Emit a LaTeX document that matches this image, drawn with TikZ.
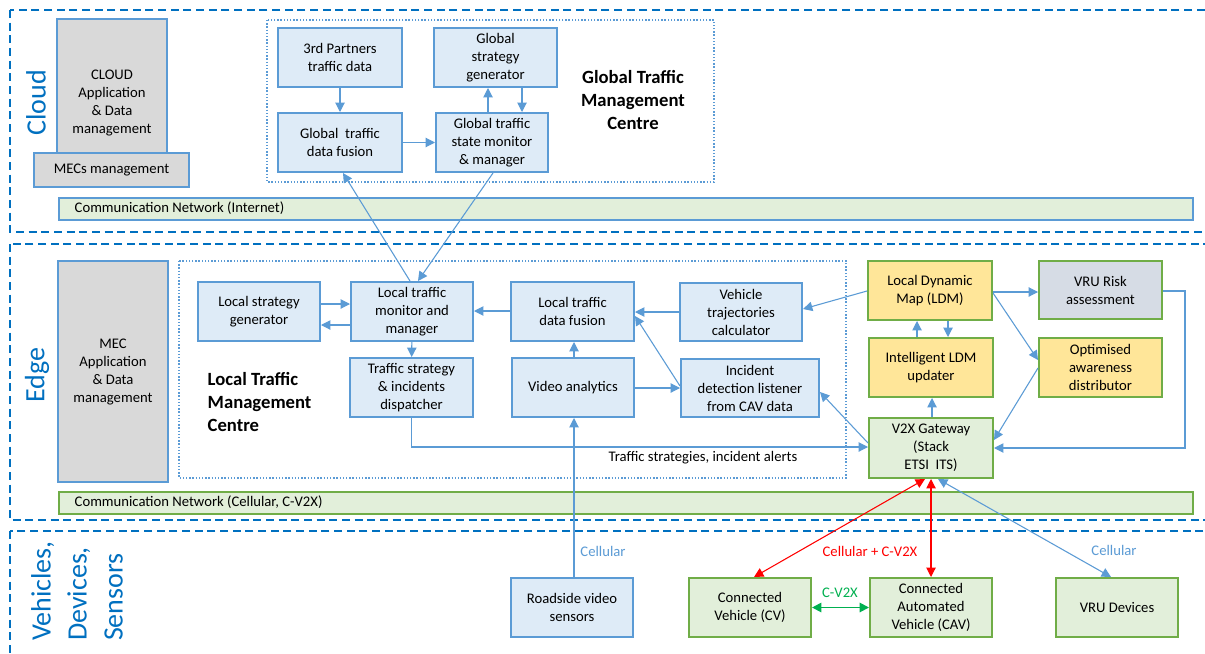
\documentclass[tikz,border=0pt]{standalone}
\usepackage{fontspec}
\setmainfont{Carlito}
\usetikzlibrary{arrows.meta, positioning, calc}
\definecolor{boxblue}{HTML}{5B9BD5}
\definecolor{fillblue}{HTML}{DEEBF7}
\definecolor{fillgray}{HTML}{D9D9D9}
\definecolor{fillgreen}{HTML}{E2EFDA}
\definecolor{boxgreen}{HTML}{70AD47}
\definecolor{fillyellow}{HTML}{FFE699}
\definecolor{fillslate}{HTML}{D6DCE5}
\definecolor{layerblue}{HTML}{0070C0}
\definecolor{linkred}{HTML}{FF0000}
\definecolor{linkgreen}{HTML}{00B050}
\tikzset{
  % Functional blocks
  block/.style={
    draw=boxblue, fill=fillblue, line width=1.5pt,
    minimum width=91.5pt, minimum height=44.25pt, inner sep=1pt,
    font=\fontsize{11}{13.5}\selectfont, align=center,
  },
  wh/.style 2 args={minimum width=#1*0.75pt, minimum height=#2*0.75pt},
  mgmt/.style={block, fill=fillgray},
  its/.style={block, draw=boxgreen, fill=#1},
  its/.default=fillgreen,
  % Communication network bars
  net/.style={draw=#1, fill=fillgreen, line width=1.5pt, anchor=west,
    minimum width=850.5pt, minimum height=16.5pt},
  nettext/.style={font=\fontsize{11}{13.5}\selectfont, anchor=west},
  % Layers and centres
  layer/.style={draw=layerblue, line width=1.4pt, dash pattern=on 6pt off 3.5pt},
  centre/.style={draw=boxblue, line width=1pt, dash pattern=on 1pt off 1.4pt},
  layertitle/.style={rotate=90, text=layerblue, align=left,
    font=\fontsize{21}{27}\selectfont},
  centretitle/.style={font=\fontsize{14}{17}\selectfont\bfseries},
  % Arrows
  flow/.style={-{Triangle[length=7pt,width=7pt]}, boxblue, line width=0.8pt},
  radio/.style={{Triangle[length=7pt,width=7pt]}-{Triangle[length=7pt,width=7pt]},
    line width=0.8pt},
  linklabel/.style={font=\fontsize{11}{13.5}\selectfont, inner sep=1pt},
}
\begin{document}
\begin{tikzpicture}[x=0.75pt, y=-0.75pt]
\useasboundingbox (0,0) rectangle (1205,653);
\clip (0,0) rectangle (1205,653);
\fill[white] (0,0) rectangle (1205,653);

% ====================================================================
% Layers
% ====================================================================
\draw[layer] (10,10) rectangle (1215,232);
\draw[layer] (10,244) rectangle (1215,520);
\draw[layer] (10,531) rectangle (1215,670);

\node[layertitle] (tcloud) at (36,103) {Cloud};
\node[layertitle] (tedge) at (37,375) {Edge};
\node[layertitle] (tdev) at (77,591) {Vehicles,\\Devices,\\Sensors};

% ====================================================================
% Cloud
% ====================================================================
\node[mgmt, wh={110}{168}] (cloudapp) at (112,103)
  {CLOUD\\Application\\\& Data\\management};
\node[mgmt, wh={155}{34}] (mecs) at (111.5,170) {MECs management};

\node[net=boxblue] (netinet) at (58,208.5) {};
\node[nettext] at ([xshift=9pt] netinet.west) {Communication Network (Internet)};

% Global traffic management centre
\draw[centre] (267,20) rectangle (714,182);
\node[centretitle, align=center] (gtmctitle) at (633,100)
  {Global Traffic\\Management\\Centre};

\node[block, wh={124}{59}] (ptd) at (340,57.5) {3rd Partners\\traffic data};
\node[block, wh={124}{59}] (gfus) at (340,142.5) {Global~ traffic\\data fusion};
\node[block, wh={123}{59}] (gsg) at (495.5,57.5) {Global\\strategy\\generator};
\node[block, wh={112}{59}] (gmon) at (492,142.5)
  {Global traffic\\state monitor\\\& manager};

\draw[flow] (ptd) -- (gfus);
\draw[flow] (gfus) -- (gmon);
\draw[flow] (gmon.north -| 488,0) -- (gsg.south -| 488,0);
\draw[flow] (gsg.south -| 522,0) -- (gmon.north -| 522,0);

% ====================================================================
% Edge
% ====================================================================
\node[mgmt, wh={110}{221}] (mecapp) at (113,371.5)
  {MEC\\Application\\\& Data\\management};

\node[net=boxgreen] (netcell) at (58,502.5) {};
\node[nettext] at ([xshift=9pt] netcell.west)
  {Communication Network (Cellular, C-V2X)};

% Local traffic management centre
\draw[centre] (179,261) rectangle (846,478);
\node[centretitle, align=left, anchor=west] (ltmctitle) at (203,402)
  {Local Traffic\\Management\\Centre};

\node[block] (lsg) at (259,311.5) {Local strategy\\generator};
\node[block] (lmon) at (412,311.5) {Local traffic\\monitor and\\manager};
\node[block, wh={123}{59}] (disp) at (411.5,387.5)
  {Traffic strategy\\\& incidents\\dispatcher};
\node[block, wh={123}{59}] (lfus) at (572.5,311.5) {Local traffic\\data fusion};
\node[block] (video) at (573,387.5) {Video analytics};
\node[block, wh={122}{58}] (traj) at (741,312)
  {Vehicle\\trajectories\\calculator};
\node[block, wh={138}{58}] (incid) at (750,388)
  {Incident\\detection listener\\from CAV data};

% ITS station blocks
\node[its=fillyellow, wh={124}{59}] (ldm) at (930,290.5) {Local Dynamic\\Map (LDM)};
\node[its=fillyellow, wh={124}{59}] (ildm) at (931,367.5) {Intelligent LDM\\updater};
\node[its, wh={124}{60}] (v2x) at (931,448) {V2X Gateway\\(Stack\\ETSI~ ITS)};
\node[its=fillslate, wh={123}{58}] (vrur) at (1100.5,290) {VRU Risk\\assessment};
\node[its=fillyellow, wh={123}{59}] (oad) at (1100.5,367.5)
  {Optimised\\awareness\\distributor};

% Links between centres
\draw[flow] (lmon.north -| 410,0) -- (gfus.south -| 343,0);
\draw[flow] (gmon.south -| 493,0) -- (lmon.north -| 418,0);

% Local links
\draw[flow] (lsg.east |- 0,304) -- (lmon.west |- 0,304);
\draw[flow] (lmon.west |- 0,325) -- (lsg.east |- 0,325);
\draw[flow] (lmon) -- (disp);
\draw[flow] (lfus.west |- 0,311) -- (lmon.east |- 0,311);
\draw[flow] (video.north -| 574,0) -- (lfus.south -| 574,0);
\draw[flow] (video.east |- 0,388) -- (incid.west |- 0,388);
\draw[flow] (traj.west |- 0,312) -- (lfus.east |- 0,312);
\draw[flow] (incid.west |- 0,386) -- (lfus.east |- 0,316);
\draw[flow] (v2x.west |- 0,443) -- (incid.east |- 0,392);
\draw[flow] (disp.south) -- (disp.south |- 0,447) -- (v2x.west |- 0,447);
\node[linklabel] (alerts) at (703,458) {Traffic strategies, incident alerts};

% ITS links
\draw[flow] (ldm.west |- 0,291) -- (traj.east |- 0,309);
\draw[flow] (ildm.north -| 917,0) -- (ldm.south -| 917,0);
\draw[flow] (ldm.south -| 948,0) -- (ildm.north -| 948,0);
\draw[flow] (v2x.north -| 932,0) -- (ildm.south -| 932,0);
\draw[flow] (ldm.east |- 0,292) -- (vrur.west |- 0,292);
\draw[flow] (ldm.east |- 0,293) -- (oad.west |- 0,360);
\draw[flow] (oad.west |- 0,368) -- (v2x.east |- 0,440);
\draw[flow] (vrur.east |- 0,291) -- (1185,291) -- (1185,448) -- (v2x.east |- 0,448);

% ====================================================================
% Vehicles, devices, sensors
% ====================================================================
\node[block] (rvs) at (572,607.5) {Roadside video\\sensors};
\node[its] (cv) at (750,607.5) {Connected\\Vehicle (CV)};
\node[its] (cav) at (931,607.5) {Connected\\Automated\\Vehicle (CAV)};
\node[its] (vrud) at (1117,607.5) {VRU Devices};

\draw[flow] (rvs.north -| 574,0) -- (video.south -| 574,0);
\node[linklabel, text=boxblue] (cellrvs) at (603,551) {Cellular};

\draw[radio, linkred] (v2x.south -| 925,0) -- (cv.north -| 754,0);
\draw[radio, linkred] (v2x.south -| 931,0) -- (cav.north -| 931,0);
\node[linklabel, text=linkred] (cellcv2x) at (870,551) {Cellular + C-V2X};

\draw[radio, linkgreen, line width=1.4pt] (cv) -- (cav);
\node[linklabel, text=linkgreen] (cv2x) at (840,593) {C-V2X};

\draw[radio, boxblue] (v2x.south -| 938,0) -- (vrud.north -| 1111,0);
\node[linklabel, text=boxblue] (cellvru) at (1114,550) {Cellular};

\end{tikzpicture}
\end{document}
